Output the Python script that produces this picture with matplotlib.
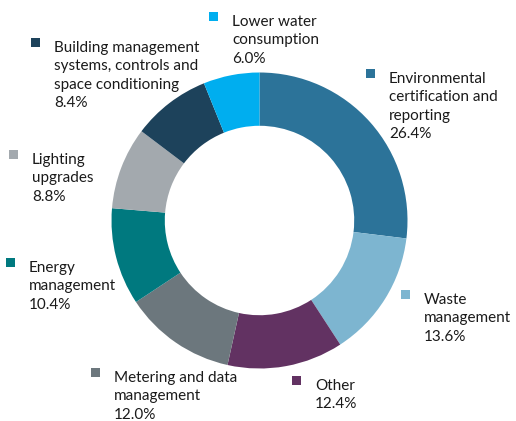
import matplotlib
matplotlib.use("Agg")
import matplotlib.pyplot as plt

labels = ["Environmental\ncertification and\nreporting",
          "Waste\nmanagement",
          "Other",
          "Metering and data\nmanagement",
          "Energy\nmanagement",
          "Lighting\nupgrades",
          "Building management\nsystems, controls and\nspace conditioning",
          "Lower water\nconsumption"]
values = [26.4, 13.6, 12.4, 12.0, 10.4, 8.8, 8.4, 6.0]
colors = ["#2c7399", "#7db5d0", "#623262", "#6c777d",
          "#00797f", "#a3a9ae", "#1d425b", "#00aeef"]

# label anchor (pixel coords: text left x, first baseline y)
label_pos = [(389, 83), (424, 304), (315, 390), (114, 382),
             (29, 272), (32, 164), (54, 52), (232, 26)]

W, H = 516, 421
fig = plt.figure(figsize=(W / 100, H / 100), dpi=100)
ax = fig.add_axes([0, 0, 1, 1])

cx, cy, R = 259.5, H - 220.5, 148
ax.pie(values, colors=colors, startangle=90, counterclock=False,
       center=(cx, cy), radius=R,
       wedgeprops=dict(width=R * 0.36, linewidth=0))

ax.set_xlim(0, W)
ax.set_ylim(0, H)
ax.set_aspect('auto')
ax.axis('off')

font = dict(family=["Lato", "DejaVu Sans"], size=11, color="#1a1a1a")
line_h = 18.4
msz = 9
for lab, v, col, (tx, ty) in zip(labels, values, colors, label_pos):
    lines = lab.split("\n") + [f"{v:.1f}%"]
    for i, ln in enumerate(lines):
        ax.text(tx, H - (ty + i * line_h), ln, ha="left", va="baseline", **font)
    # square marker
    mx = tx - 23
    my_top = ty - 14
    ax.add_patch(plt.Rectangle((mx, H - my_top - msz), msz, msz,
                               facecolor=col, edgecolor="none"))

fig.savefig("out.png", dpi=100)
